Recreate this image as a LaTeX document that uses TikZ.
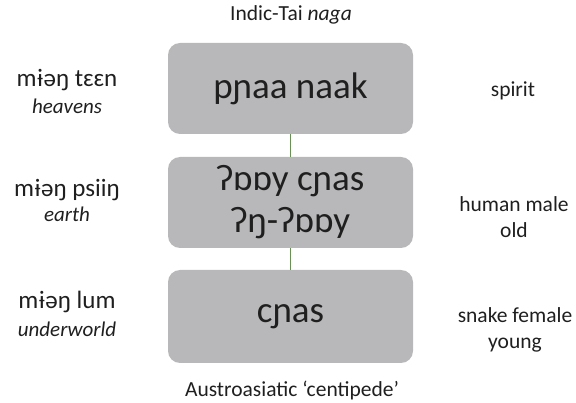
\documentclass[tikz,border=0pt]{standalone}
\usepackage{fontspec}
\setmainfont{Carlito}
\usetikzlibrary{positioning}
\definecolor{boxgray}{RGB}{184,184,186}
\definecolor{linkgreen}{RGB}{105,145,85}

\begin{document}
\begin{tikzpicture}[x=1pt,y=-1pt,node distance=23pt,
  every node/.style={inner sep=0pt,outer sep=0pt,text=black!88},
  level/.style={fill=boxgray,rounded corners=12pt,minimum width=245pt,minimum height=91pt,align=center,font=\fontsize{37}{42}\selectfont},
  realm/.style={font=\fontsize{25}{29}\selectfont},
  gloss/.style={align=center,font=\fontsize{21.5}{26}\selectfont},
  realmgloss/.style={font=\fontsize{21}{26}\selectfont\itshape},
  link/.style={draw=linkgreen,line width=1pt}]
  \useasboundingbox (0,0) rectangle (576,403);
  \node[gloss] (top) at (291,15) {Indic-Tai \textit{naga}};
  \node[level] (heaven) at (290.5,88.5) {pɲaa naak};
  \node[level,below=of heaven] (earth) {ʔɒɒy cɲas\\ʔŋ-ʔɒɒy};
  \node[level,below=22pt of earth,minimum height=93pt] (under) {cɲas};
  \node[gloss] (bottom) at (292,390) {Austroasiatic ‘centipede’};

  \node[realm] (r1) at (67,80) {mɨəŋ tɛɛn};
  \node[realmgloss] (r1g) at (67,106) {heavens};
  \node[realm] (r2) at (67,190) {mɨəŋ psiiŋ};
  \node[realmgloss] (r2g) at (67,214) {earth};
  \node[realm] (r3) at (67,302) {mɨəŋ lum};
  \node[realmgloss] (r3g) at (67,329) {underworld};

  \node[gloss] (s1) at (513,91) {spirit};
  \node[gloss] (s2) at (514,217) {human male\\old};
  \node[gloss] (s3) at (515,330) {snake female\\young};

  \draw[link] (heaven)--(earth);
  \draw[link] (earth)--(under);
\end{tikzpicture}
\end{document}
